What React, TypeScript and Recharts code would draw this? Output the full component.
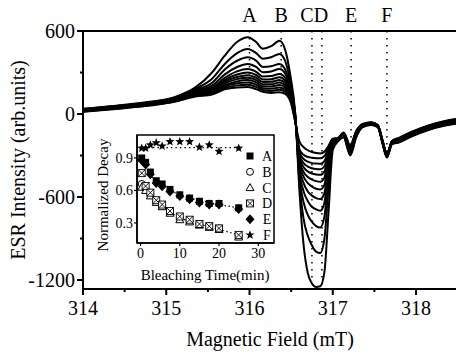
import React from "react";
import {
  LineChart,
  Line,
  XAxis,
  YAxis,
  ReferenceLine,
  ReferenceArea,
  ComposedChart,
  Scatter,
} from "recharts";

const SERIF = '"Liberation Serif", "DejaVu Serif", serif';

// magnetic field grid (mT) shared by all spectra
const FIELD = [
  314.0, 314.4, 314.8, 315.1, 315.35, 315.55, 315.7, 315.85, 315.98, 316.08,
  316.16, 316.26, 316.36, 316.43, 316.49, 316.55, 316.6, 316.65, 316.7, 316.75,
  316.8, 316.85, 316.9, 316.95, 317.0, 317.06, 317.13, 317.21, 317.28, 317.36,
  317.46, 317.54, 317.6, 317.65, 317.71, 317.8, 317.95, 318.15, 318.35, 318.5,
];

// ESR spectra, from the strongest to the most bleached
const spec1 = [38, 60, 88, 122, 192, 300, 420, 520, 555, 520, 472, 490, 530, 460, 280, 0, -560, -950, -1150, -1225, -1250, -1245, -1140, -700, -260, -200, -170, -300, -170, -95, -80, -95, -220, -315, -220, -205, -162, -116, -84, -68];
const spec2 = [36, 57, 85, 118, 182, 255, 360, 440, 470, 440, 400, 410, 434, 380, 230, -10, -500, -760, -880, -950, -995, -1005, -900, -520, -230, -195, -165, -290, -165, -92, -78, -93, -216, -312, -217, -201, -158, -112, -80, -64];
const spec3 = [34, 55, 82, 115, 174, 225, 320, 385, 410, 385, 340, 345, 362, 320, 200, -15, -460, -640, -730, -780, -810, -820, -740, -430, -215, -192, -160, -282, -160, -90, -76, -92, -213, -309, -214, -198, -155, -109, -77, -61];
const spec4 = [32, 53, 80, 112, 167, 205, 285, 340, 362, 340, 302, 308, 325, 290, 180, -20, -420, -560, -630, -670, -690, -700, -640, -380, -205, -190, -157, -275, -156, -88, -75, -90, -211, -306, -212, -195, -152, -106, -74, -58];
const spec5 = [30, 51, 78, 109, 161, 190, 260, 308, 325, 305, 272, 275, 290, 260, 165, -25, -390, -500, -560, -590, -608, -615, -570, -345, -200, -188, -154, -268, -152, -86, -73, -89, -209, -304, -209, -192, -149, -103, -71, -55];
const spec6 = [28, 49, 75, 106, 155, 180, 245, 285, 300, 282, 250, 252, 265, 240, 155, -30, -360, -455, -500, -525, -540, -545, -510, -320, -195, -186, -151, -262, -148, -84, -72, -88, -207, -302, -207, -189, -146, -100, -68, -52];
const spec7 = [26, 47, 73, 103, 150, 172, 232, 267, 280, 262, 232, 233, 245, 222, 145, -35, -335, -420, -455, -475, -485, -490, -460, -300, -190, -184, -148, -256, -144, -82, -70, -86, -205, -300, -205, -186, -143, -97, -65, -49];
const spec8 = [24, 45, 71, 100, 146, 165, 220, 252, 262, 245, 215, 215, 228, 205, 135, -40, -315, -385, -415, -430, -437, -440, -415, -285, -188, -182, -145, -250, -140, -80, -68, -85, -203, -298, -203, -183, -140, -94, -62, -46];
const spec9 = [22, 43, 68, 97, 141, 158, 208, 236, 245, 228, 200, 198, 210, 190, 125, -45, -295, -355, -380, -392, -398, -400, -378, -270, -185, -180, -142, -244, -136, -78, -66, -84, -201, -296, -201, -180, -137, -91, -59, -43];
const spec10 = [20, 41, 66, 94, 136, 152, 198, 222, 228, 212, 186, 182, 192, 175, 115, -50, -275, -325, -345, -355, -358, -360, -340, -255, -182, -178, -139, -238, -132, -76, -64, -82, -199, -294, -199, -177, -134, -88, -56, -40];
const spec11 = [18, 39, 64, 91, 131, 146, 188, 207, 212, 196, 172, 167, 175, 160, 105, -55, -255, -295, -310, -316, -319, -320, -303, -240, -180, -176, -136, -232, -128, -74, -62, -80, -197, -292, -197, -174, -131, -85, -53, -37];
const spec12 = [16, 37, 61, 88, 126, 140, 178, 192, 195, 180, 160, 152, 158, 145, 95, -60, -200, -240, -262, -275, -282, -285, -272, -230, -178, -174, -133, -226, -124, -72, -60, -79, -195, -290, -195, -171, -128, -82, -50, -34];

const SPECTRA = [spec1, spec2, spec3, spec4, spec5, spec6, spec7, spec8, spec9, spec10, spec11, spec12];

const FIELD_TICKS = [314, 314.5, 315, 315.5, 316, 316.5, 317, 317.5, 318];
const INTENSITY_TICKS = [-1200, -900, -600, -300, 0, 300, 600];

// marked positions A-F and where their dotted guides end
const MARK_LABELS = ["A", "B", "C", "D", "E", "F"];
const MARK_FIELDS = [316.0, 316.38, 316.75, 316.87, 317.22, 317.65];
const MARK_ENDS = [195, 158, -1220, -1240, -300, -315];

// inset: normalized decay vs bleaching time
const TIMES = [0.3, 1.3, 2.5, 4, 5.5, 7.5, 10, 12.5, 15, 17.5, 20, 25];
const DECAY_A = [0.9, 0.86, 0.77, 0.69, 0.66, 0.61, 0.56, 0.53, 0.5, 0.48, 0.48, 0.44];
const DECAY_B = [0.66, 0.62, 0.57, 0.5, 0.46, 0.4, 0.35, 0.32, 0.29, 0.27, 0.25, 0.18];
const DECAY_C = [0.63, 0.6, 0.55, 0.49, 0.45, 0.39, 0.33, 0.31, 0.28, 0.26, 0.24, 0.17];
const DECAY_D = [0.76, 0.64, 0.58, 0.51, 0.47, 0.41, 0.36, 0.33, 0.29, 0.27, 0.25, 0.19];
const DECAY_E = [0.88, 0.84, 0.75, 0.67, 0.64, 0.59, 0.55, 0.52, 0.49, 0.47, 0.47, 0.43];
const DECAY_F = [0.99, 0.99, 1.02, 1.04, 1.01, 1.05, 1.05, 1.05, 1.0, 1.02, 0.96, 0.99];

const FIT_T = [1, 3, 5, 7.5, 10, 15, 20, 25];
const FIT_FAST = [0.68, 0.55, 0.47, 0.4, 0.35, 0.29, 0.24, 0.19];
const FIT_SLOW = [0.86, 0.72, 0.65, 0.6, 0.56, 0.51, 0.47, 0.44];
const FIT_FLAT_T = [2, 25];
const FIT_FLAT = [0.995, 0.995];

const spectraRows = FIELD.map((f, i) => {
  const row: Record<string, number> = { field: f };
  SPECTRA.forEach((s, k) => (row[`s${k}`] = s[i]));
  return row;
});

const pts = (ts: number[], vs: number[]) => ts.map((t, i) => ({ t, v: vs[i] }));

const SERIES = [
  { name: "B", kind: "circle", values: DECAY_B },
  { name: "C", kind: "triangle", values: DECAY_C },
  { name: "D", kind: "boxcross", values: DECAY_D },
  { name: "A", kind: "square", values: DECAY_A },
  { name: "E", kind: "diamond", values: DECAY_E },
  { name: "F", kind: "star", values: DECAY_F },
];
const LEGEND_ORDER = ["A", "B", "C", "D", "E", "F"];

const Marker = ({ kind, cx, cy }: { kind: string; cx: number; cy: number }) => {
  if (kind === "square")
    return <rect x={cx - 3.5} y={cy - 3.5} width={7} height={7} fill="#000" />;
  if (kind === "circle")
    return <circle cx={cx} cy={cy} r={3.5} fill="#fff" stroke="#000" strokeWidth={1} />;
  if (kind === "triangle")
    return (
      <polygon
        points={`${cx},${cy - 4} ${cx + 4},${cy + 3} ${cx - 4},${cy + 3}`}
        fill="#fff"
        stroke="#000"
        strokeWidth={1}
      />
    );
  if (kind === "boxcross")
    return (
      <g stroke="#000" strokeWidth={0.9} fill="#fff">
        <rect x={cx - 3.5} y={cy - 3.5} width={7} height={7} />
        <line x1={cx - 3.5} y1={cy - 3.5} x2={cx + 3.5} y2={cy + 3.5} />
        <line x1={cx + 3.5} y1={cy - 3.5} x2={cx - 3.5} y2={cy + 3.5} />
      </g>
    );
  if (kind === "diamond")
    return (
      <polygon
        points={`${cx},${cy - 5} ${cx + 4.5},${cy} ${cx},${cy + 5} ${cx - 4.5},${cy}`}
        fill="#000"
      />
    );
  // star
  const p: string[] = [];
  for (let i = 0; i < 10; i++) {
    const r = i % 2 === 0 ? 4.8 : 2;
    const a = -Math.PI / 2 + (i * Math.PI) / 5;
    p.push(`${cx + r * Math.cos(a)},${cy + r * Math.sin(a)}`);
  }
  return <polygon points={p.join(" ")} fill="#000" />;
};

const FieldTick = (props: any) => {
  const { x, y, payload } = props;
  const major = Number.isInteger(payload.value);
  return (
    <g>
      <line x1={x} x2={x} y1={y} y2={y + (major ? 6 : 3)} stroke="#000" strokeWidth={2} />
      {major && (
        <text x={x} y={y + 26} textAnchor="middle" fontSize={20} fontFamily={SERIF} fill="#000">
          {payload.value}
        </text>
      )}
    </g>
  );
};

const IntensityTick = (props: any) => {
  const { x, y, payload } = props;
  const major = payload.value % 600 === 0;
  return (
    <g>
      <line x1={x} x2={x - (major ? 6 : 3)} y1={y} y2={y} stroke="#000" strokeWidth={2} />
      {major && (
        <text x={x - 8} y={y + 7} textAnchor="end" fontSize={20} fontFamily={SERIF} fill="#000">
          {payload.value}
        </text>
      )}
    </g>
  );
};

const LABEL_NUDGE: Record<string, number> = { C: -5, D: -1 };

const Inset = () => (
  <div style={{ position: "absolute", left: 88, top: 128 }}>
    <ComposedChart width={190} height={160} margin={{ top: 7, right: 4, bottom: 0, left: 0 }}>
      <XAxis
        dataKey="t"
        type="number"
        domain={[-0.9, 34]}
        allowDataOverflow
        ticks={[0, 10, 20, 30]}
        interval={0}
        height={45}
        tickSize={3}
        tickMargin={2}
        tick={{ fontSize: 14, fill: "#000", fontFamily: SERIF }}
        axisLine={{ stroke: "#000", strokeWidth: 1.5 }}
        tickLine={{ stroke: "#000", strokeWidth: 1.2 }}
        label={(p: any) => (
          <text x={117} y={152} textAnchor="middle" fontSize={15} fontFamily={SERIF} fill="#000">
            Bleaching Time(min)
          </text>
        )}
      />
      <YAxis
        dataKey="v"
        type="number"
        domain={[0.115, 1.112]}
        allowDataOverflow
        ticks={[0.3, 0.6, 0.9]}
        interval={0}
        width={49}
        tickSize={3}
        tickMargin={1}
        tick={{ fontSize: 14, fill: "#000", fontFamily: SERIF }}
        axisLine={{ stroke: "#000", strokeWidth: 1.5 }}
        tickLine={{ stroke: "#000", strokeWidth: 1.2 }}
        label={(p: any) => (
          <text
            x={15}
            y={67}
            transform="rotate(-90 15 67)"
            textAnchor="middle"
            dominantBaseline="central"
            fontSize={15}
            fontFamily={SERIF}
            fill="#000"
          >
            Normalized Decay
          </text>
        )}
      />
      <ReferenceArea
        x1={-0.9}
        x2={34}
        y1={0.115}
        y2={1.112}
        fill="#fff"
        fillOpacity={1}
        stroke="#000"
        strokeWidth={1.5}
      />
      <Line data={pts(FIT_T, FIT_FAST)} dataKey="v" type="monotone" stroke="#000" strokeWidth={1.2} strokeDasharray="1.5 2.5" dot={false} isAnimationActive={false} />
      <Line data={pts(FIT_T, FIT_SLOW)} dataKey="v" type="monotone" stroke="#000" strokeWidth={1.2} strokeDasharray="1.5 2.5" dot={false} isAnimationActive={false} />
      <Line data={pts(FIT_FLAT_T, FIT_FLAT)} dataKey="v" type="linear" stroke="#000" strokeWidth={1.2} strokeDasharray="1.5 3" dot={false} isAnimationActive={false} />
      {SERIES.map((s) => (
        <Scatter
          key={s.name}
          name={s.name}
          data={pts(TIMES, s.values)}
          dataKey="v"
          isAnimationActive={false}
          shape={(p: any) => <Marker kind={s.kind} cx={p.cx} cy={p.cy} />}
        />
      ))}
    </ComposedChart>
    <svg width={40} height={100} style={{ position: "absolute", left: 152, top: 17 }}>
      {LEGEND_ORDER.map((name, i) => {
        const s = SERIES.find((q) => q.name === name)!;
        const y = 11 + i * 15.8;
        return (
          <g key={name}>
            <Marker kind={s.kind} cx={10} cy={y} />
            <text x={27} y={y + 5} textAnchor="middle" fontSize={14} fontFamily={SERIF} fill="#000">
              {name}
            </text>
          </g>
        );
      })}
    </svg>
  </div>
);

const App = () => (
  <div style={{ position: "absolute", left: 0, top: 0, width: 456, height: 360, background: "#fff" }}>
    <LineChart width={456} height={360} data={spectraRows} margin={{ top: 31, right: 0, bottom: 0, left: 0 }}>
      <XAxis
        dataKey="field"
        type="number"
        domain={[314, 318.48]}
        allowDataOverflow
        ticks={FIELD_TICKS}
        interval={0}
        height={71}
        tickLine={false}
        tickSize={0}
        tickMargin={0}
        tick={<FieldTick />}
        axisLine={{ stroke: "#000", strokeWidth: 2 }}
        label={(p: any) => (
          <text x={270} y={346} textAnchor="middle" fontSize={20} fontFamily={SERIF} fill="#000">
            Magnetic Field (mT)
          </text>
        )}
      />
      <YAxis
        type="number"
        domain={[-1265, 600]}
        allowDataOverflow
        ticks={INTENSITY_TICKS}
        interval={0}
        width={83}
        tickLine={false}
        tickSize={0}
        tickMargin={0}
        tick={<IntensityTick />}
        axisLine={{ stroke: "#000", strokeWidth: 2 }}
        label={(p: any) => (
          <text
            x={18}
            y={160}
            transform="rotate(-90 18 160)"
            textAnchor="middle"
            dominantBaseline="central"
            fontSize={20}
            fontFamily={SERIF}
            fill="#000"
          >
            ESR Intensity (arb.units)
          </text>
        )}
      />
      <ReferenceLine y={600} stroke="#000" strokeWidth={2} />
      {MARK_FIELDS.map((f, i) => (
        <ReferenceLine
          key={MARK_LABELS[i]}
          segment={[
            { x: f, y: 600 },
            { x: f, y: MARK_ENDS[i] },
          ]}
          stroke="#000"
          strokeWidth={1.5}
          strokeDasharray="1.5 5.5"
          label={(p: any) => (
            <text
              x={(p.viewBox?.x ?? 0) + (LABEL_NUDGE[MARK_LABELS[i]] ?? 0)}
              y={22}
              textAnchor="middle"
              fontSize={20}
              fontFamily={SERIF}
              fill="#000"
            >
              {MARK_LABELS[i]}
            </text>
          )}
        />
      ))}
      {SPECTRA.map((_, k) => (
        <Line
          key={k}
          dataKey={`s${k}`}
          type="monotone"
          stroke="#000"
          strokeWidth={2}
          dot={false}
          isAnimationActive={false}
        />
      ))}
    </LineChart>
    <Inset />
  </div>
);

export default App;
